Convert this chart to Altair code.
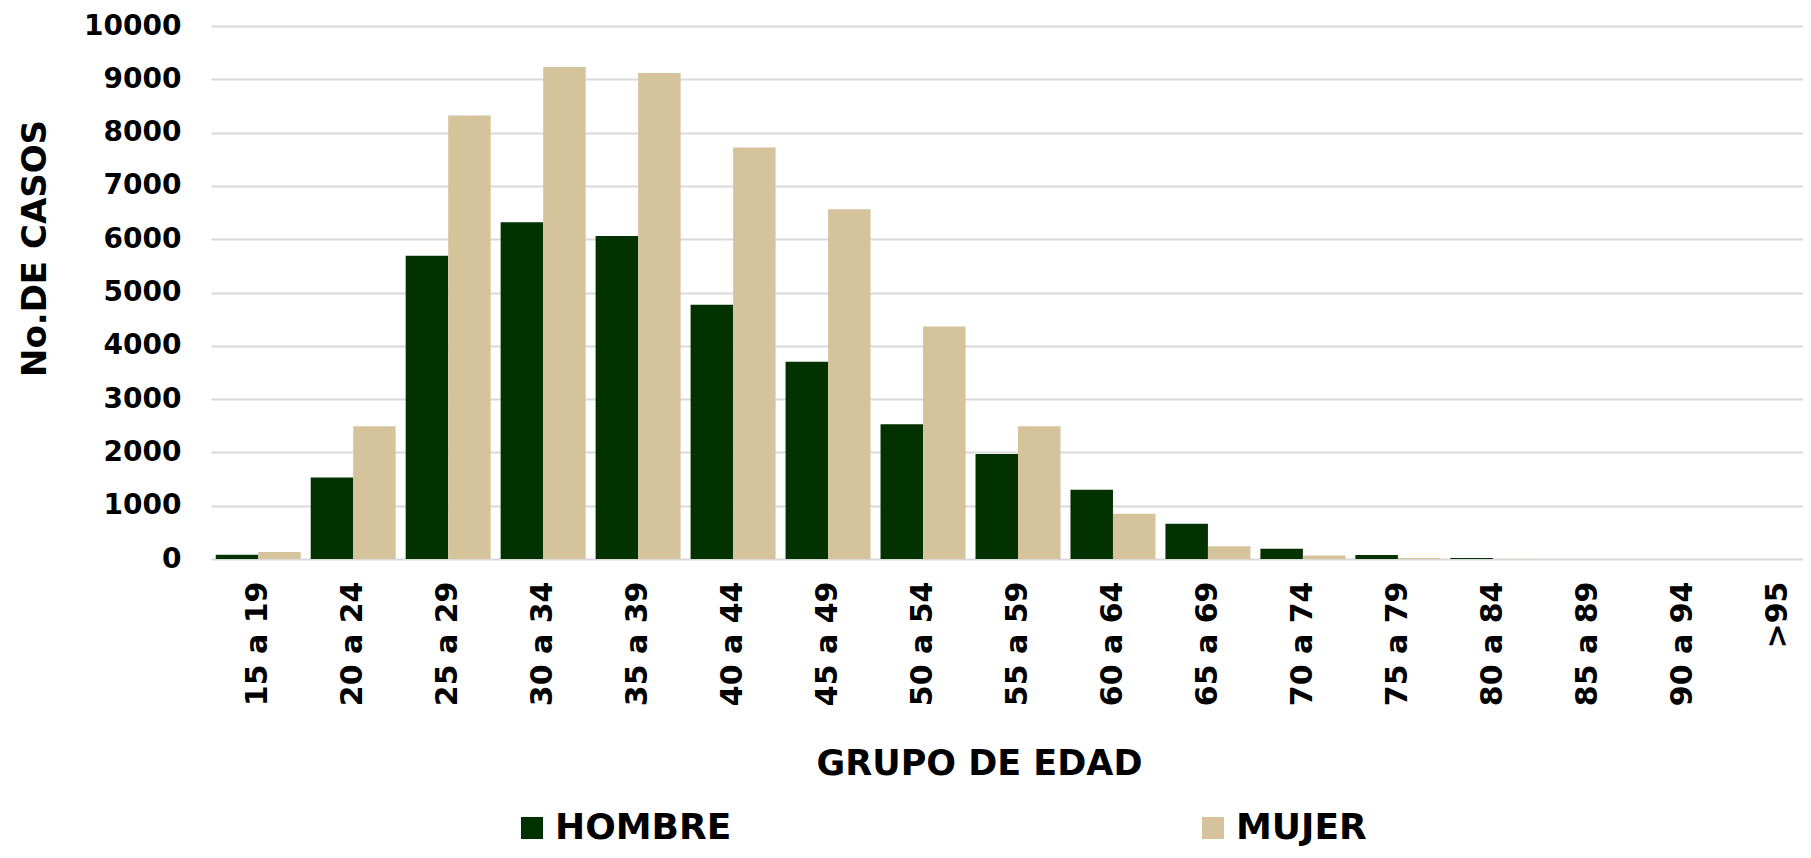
import altair as alt
import pandas as pd

grupos = ["15 a 19", "20 a 24", "25 a 29", "30 a 34", "35 a 39", "40 a 44",
          "45 a 49", "50 a 54", "55 a 59", "60 a 64", "65 a 69", "70 a 74",
          "75 a 79", "80 a 84", "85 a 89", "90 a 94", ">95"]
hombre = [80, 1530, 5690, 6320, 6060, 4770, 3700, 2530, 1970, 1300, 660, 190, 75, 20, 0, 0, 0]
mujer = [130, 2490, 8320, 9230, 9120, 7720, 6560, 4360, 2490, 850, 240, 65, 20, 5, 0, 0, 0]
sexos = ["HOMBRE", "MUJER"]
colores = ["#033201", "#d5c39c"]
y_ticks = [0, 1000, 2000, 3000, 4000, 5000, 6000, 7000, 8000, 9000, 10000]

rows = []
for g, h, m in zip(grupos, hombre, mujer):
    rows.append({"grupo": g, "sexo": "HOMBRE", "casos": h})
    rows.append({"grupo": g, "sexo": "MUJER", "casos": m})
df = pd.DataFrame(rows)

FONT = "DejaVu Sans"

chart = alt.Chart(df).mark_bar().encode(
    x=alt.X("grupo:N", sort=grupos,
            scale=alt.Scale(range=[0, 1614], paddingInner=0.105, paddingOuter=0.05),
            axis=alt.Axis(title="GRUPO DE EDAD", labelAngle=-90, labelFontSize=30,
                          labelFont=FONT, labelFontWeight="bold", labelColor="#000000",
                          labelPadding=22, ticks=False, domain=False, grid=False,
                          titleFont=FONT, titleFontSize=35, titleFontWeight="bold",
                          titleColor="#000000", titleX=768, titleY=204,
                          titleBaseline="middle", titleAlign="center")),
    xOffset=alt.XOffset("sexo:N", sort=sexos),
    y=alt.Y("casos:Q", scale=alt.Scale(domain=[0, 10000], nice=False),
            axis=alt.Axis(title="No.DE CASOS", values=y_ticks, format="d",
                          labelFont=FONT, labelFontSize=28, labelFontWeight="bold",
                          labelColor="#000000", labelPadding=30, ticks=False,
                          domain=False, grid=True, gridColor="#d9d9d9", gridWidth=2,
                          titleFont=FONT, titleFontSize=34, titleFontWeight="bold",
                          titleColor="#000000", titleX=-176, titleY=222,
                          titleAngle=-90, titleBaseline="middle", titleAlign="center")),
    color=alt.Color("sexo:N", sort=sexos,
                    scale=alt.Scale(domain=sexos, range=colores),
                    legend=alt.Legend(title=None, orient="none", direction="horizontal",
                                      legendX=303, legendY=784, symbolType="square",
                                      symbolSize=484, symbolStrokeWidth=0,
                                      labelFont=FONT, labelFontSize=36,
                                      labelFontWeight="bold", labelColor="#000000",
                                      labelOffset=5, labelLimit=500,
                                      columnPadding=463, padding=0)),
).properties(
    width=1592, height=533,
    autosize=alt.AutoSizeParams(type="none"),
    padding={"left": 203, "top": 18, "right": 0, "bottom": 291},
    background="#ffffff",
).configure_view(stroke=None)

chart.save("out.html", embed_options={"renderer": "svg", "actions": False})
